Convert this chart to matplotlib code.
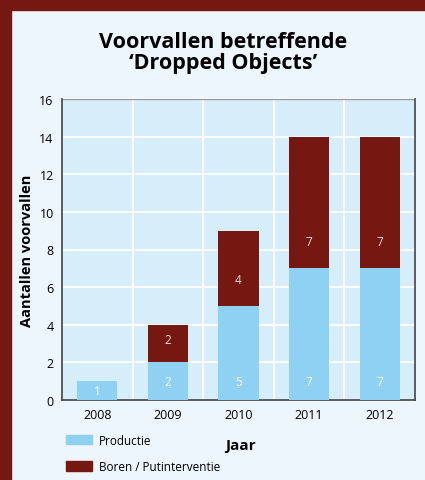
import matplotlib
matplotlib.use('Agg')
import matplotlib.pyplot as plt
from matplotlib.patches import Rectangle, Patch
import numpy as np

plt.rcParams['font.family'] = ['Open Sans', 'DejaVu Sans']

years = ['2008', '2009', '2010', '2011', '2012']
productie = [1, 2, 5, 7, 7]
boren = [0, 2, 4, 7, 7]

dark_red = '#761812'
blue = '#8ED1F2'

fig = plt.figure(figsize=(4.25, 4.81), dpi=100, facecolor='#ECF6FC')
# red border at left and top
fig.patches.append(Rectangle((0, 0), 11 / 425, 1, transform=fig.transFigure, color=dark_red, zorder=0))
fig.patches.append(Rectangle((0, 1 - 11 / 481), 1, 11 / 481, transform=fig.transFigure, color=dark_red, zorder=0))

ax = fig.add_axes([62 / 425, 1 - 401 / 481, 353 / 425, 301 / 481])
ax.set_facecolor('#D6EEFA')

x = np.arange(len(years))
w = 0.57
ax.bar(x, productie, w, color=blue, zorder=3)
ax.bar(x, boren, w, bottom=productie, color=dark_red, zorder=3)

# labels inside the bars, near the bottom of each segment
for i in range(len(years)):
    ypos = productie[i] / 2 if productie[i] < 2 else 1.0
    ax.text(x[i], ypos, str(productie[i]), ha='center', va='center',
            color='white', fontsize=8.5, zorder=4)
    if boren[i]:
        ax.text(x[i], productie[i] + min(1.4, boren[i] * 0.6), str(boren[i]), ha='center', va='center',
                color='#F2D9D6', fontsize=8.5, zorder=4)

ax.set_xlim(-0.5, len(years) - 0.5)
ax.set_ylim(0, 16)
ax.set_yticks(range(0, 17, 2))
ax.set_xticks(x)
ax.set_xticklabels(years)
for b in np.arange(0.5, len(years) - 1, 1):
    ax.axvline(b, color='white', lw=1.5, zorder=1)
for yv in range(2, 16, 2):
    ax.axhline(yv, color='white', lw=1.5, zorder=1)
ax.axhline(16, color='#999999', lw=1, zorder=1)

ax.tick_params(length=0, labelsize=9, pad=6)
for s in ['left', 'bottom', 'right']:
    ax.spines[s].set_color('#444444')
    ax.spines[s].set_linewidth(1.2)
ax.spines['top'].set_visible(False)

ax.set_ylabel('Aantallen voorvallen', fontsize=10.5, fontweight='bold', labelpad=4)

fig.text(0.525, 0.89, 'Voorvallen betreffende\n\u2018Dropped Objects\u2019', ha='center', va='center',
         fontsize=15.5, fontweight='bold', linespacing=1.05)
fig.text(240 / 425, 1 - 446 / 481, 'Jaar', ha='center', va='center', fontsize=11, fontweight='bold')

handles = [Patch(color=blue), Patch(color=dark_red)]
fig.legend(handles, ['Productie', 'Boren / Putinterventie'], loc='lower left',
           bbox_to_anchor=(55 / 425, -0.008), frameon=False, fontsize=8.5,
           handlelength=2.2, handleheight=0.9, handletextpad=0.6, labelspacing=1.15)

fig.savefig('out.png', dpi=100, facecolor=fig.get_facecolor())
